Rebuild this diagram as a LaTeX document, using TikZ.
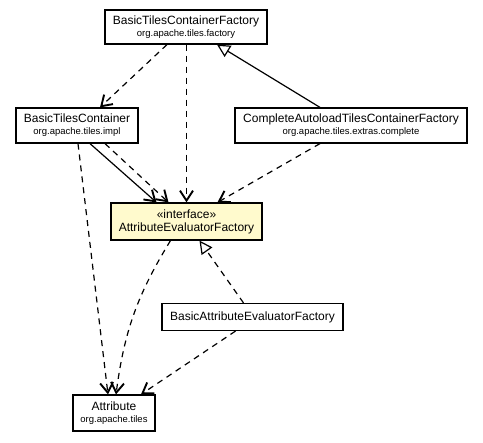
\documentclass[tikz,border=0pt]{standalone}
\usepackage{fontspec}
\setmainfont{Liberation Sans}
\usepackage{xcolor}
\usepackage{tikz}
\usetikzlibrary{
  arrows.meta, positioning, calc
}
\definecolor{ifacefill}{HTML}{FFFACD}
\newcommand{\pkgname}[1]{{\fontsize{9.5}{11}\selectfont #1}}
\tikzset{
  classbox/.style={
    draw, line width=1.2pt, align=center, fill=white,
    font=\fontsize{12}{13}\selectfont, inner sep=2pt
  },
  ifacebox/.style={
    classbox, fill=ifacefill
  },
  deparrow/.style={
    -{Straight Barb[length=10pt, width=13pt, line width=1.9pt]},
    line width=1.2pt, dash pattern=on 6pt off 5pt
  },
  navarrow/.style={
    -{Straight Barb[length=10pt, width=13pt, line width=1.9pt]},
    line width=1.2pt
  },
  extendarrow/.style={
    -{Triangle[open, length=13pt, width=13pt, fill=white, line width=1.2pt]},
    line width=1.2pt
  },
  implarrow/.style={
    -{Triangle[open, length=13pt, width=13pt, fill=white, line width=1.2pt]},
    line width=1.2pt, dash pattern=on 6pt off 5pt
  },
}

\begin{document}
\begin{tikzpicture}[x=1pt, y=-1pt]
  \useasboundingbox[fill=white] (0,0) rectangle (483,443);
  % classes
  \node[classbox, minimum width=162pt, minimum height=34pt] (btcf) at (186,27)
    {BasicTilesContainerFactory\\[-1pt]\pkgname{org.apache.tiles.factory}};
  \node[classbox, minimum width=122pt, minimum height=35pt] (btc) at (77,125.5)
    {BasicTilesContainer\\[-1pt]\pkgname{org.apache.tiles.impl}};
  \node[classbox, minimum width=232pt, minimum height=35pt] (catcf) at (351,125.5)
    {CompleteAutoloadTilesContainerFactory\\[-1pt]\pkgname{org.apache.tiles.extras.complete}};
  \node[ifacebox, minimum width=151pt, minimum height=37pt] (aef) at (186.5,221.5)
    {«interface»\\AttributeEvaluatorFactory};
  \node[classbox, minimum width=181pt, minimum height=27pt] (baef) at (252.5,317)
    {BasicAttributeEvaluatorFactory};
  \node[classbox, minimum width=82pt, minimum height=36pt] (attr) at (114,413)
    {Attribute\\[-1pt]\pkgname{org.apache.tiles}};
  % relations
  \draw[deparrow] ([xshift=-19pt]btcf.south) -- ([xshift=23pt]btc.north);
  \draw[deparrow] ([xshift=0.5pt]btcf.south) -- (aef.north);
  \draw[extendarrow] ([xshift=-31pt]catcf.north) -- ([xshift=31pt]btcf.south);
  \draw[navarrow] ([xshift=13pt]btc.south) -- ([xshift=-30pt]aef.north);
  \draw[deparrow] ([xshift=28pt]btc.south) -- ([xshift=-18pt]aef.north);
  \draw[deparrow] ([xshift=1pt]btc.south) -- ([xshift=-6pt]attr.north);
  \draw[deparrow] ([xshift=-31pt]catcf.south) -- ([xshift=31pt]aef.north);
  \draw[deparrow] ([xshift=-16pt]aef.south) to[bend right=12] ([xshift=2pt]attr.north);
  \draw[implarrow] ([xshift=-9pt]baef.north) -- ([xshift=13pt]aef.south);
  \draw[deparrow] ([xshift=-17pt]baef.south) -- ([xshift=27pt]attr.north);
\end{tikzpicture}
\end{document}
